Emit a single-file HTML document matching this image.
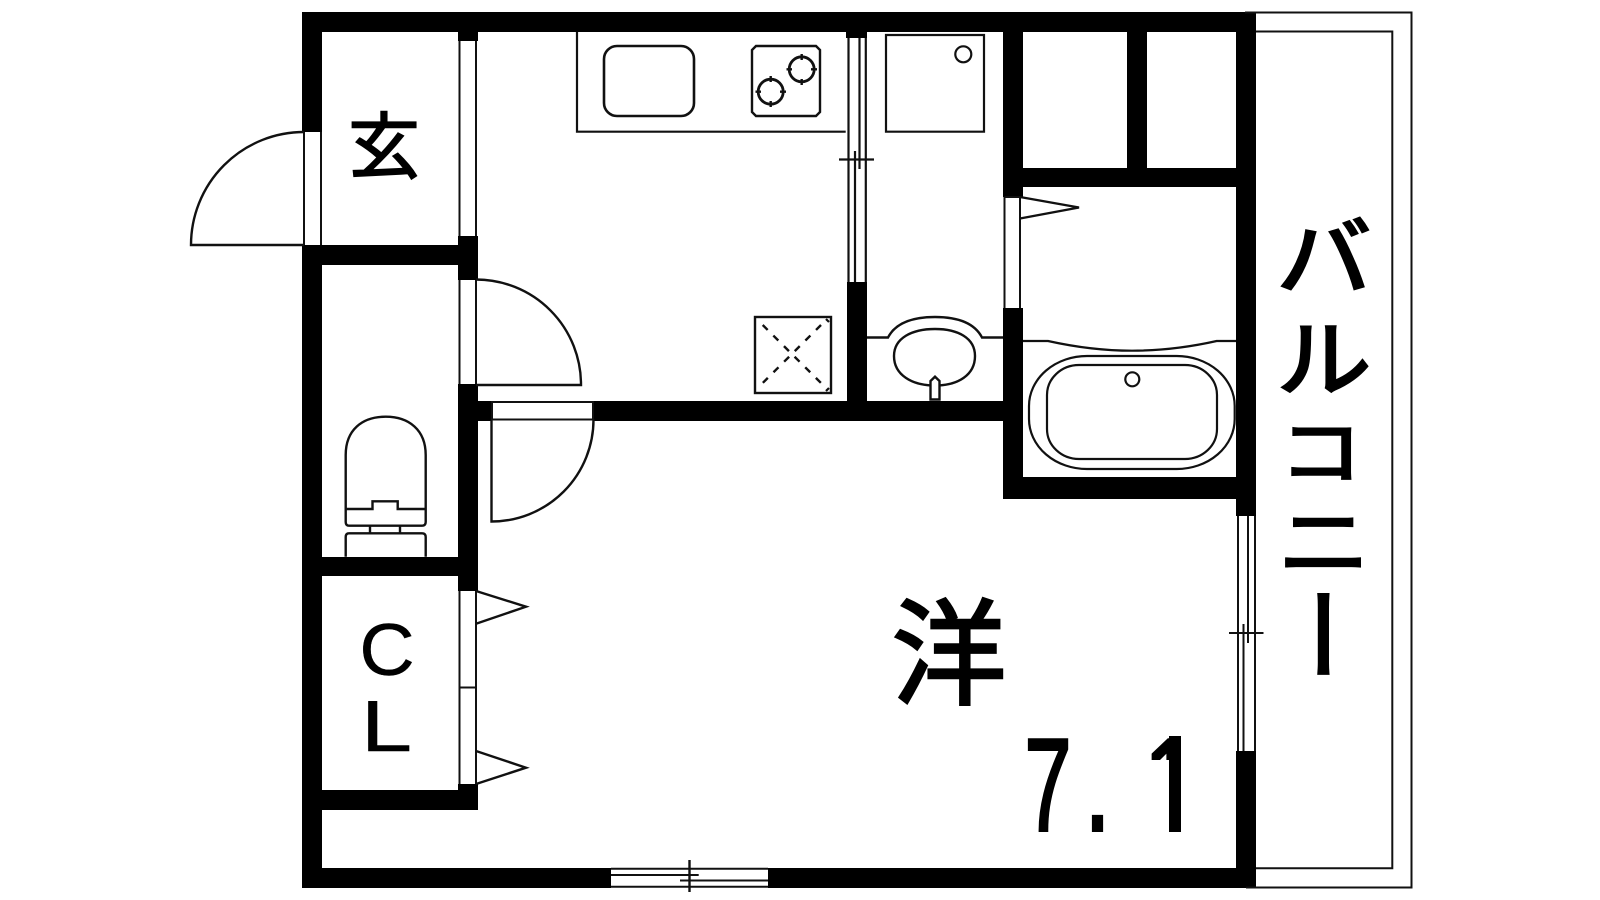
<!DOCTYPE html>
<html><head><meta charset="utf-8"><style>
html,body{margin:0;padding:0;background:#fff;width:1600px;height:900px;overflow:hidden}
svg{display:block}
.j{font-family:"Liberation Sans","Noto Sans CJK JP",sans-serif;fill:#000;stroke:#000}
.l{font-family:"Liberation Sans",sans-serif;fill:#000;stroke:#000}
</style></head><body>
<svg width="1600" height="900" viewBox="0 0 1600 900" xmlns="http://www.w3.org/2000/svg">
<rect width="1600" height="900" fill="#fff"/>
<!-- walls -->
<g fill="#000">
<rect x="302" y="12" width="954" height="20"/>
<rect x="302" y="12" width="20" height="120"/>
<rect x="302" y="245" width="20" height="643"/>
<rect x="302" y="868" width="309" height="20"/>
<rect x="768" y="868" width="488" height="20"/>
<rect x="458" y="32" width="20" height="9"/>
<rect x="458" y="236" width="20" height="44"/>
<rect x="458" y="384" width="20" height="207"/>
<rect x="458" y="784" width="20" height="26"/>
<rect x="302" y="245" width="176" height="20"/>
<rect x="302" y="557" width="176" height="19"/>
<rect x="302" y="790" width="176" height="20"/>
<rect x="478" y="401" width="14" height="20"/>
<rect x="593" y="401" width="430" height="20"/>
<rect x="846" y="32" width="21" height="6"/>
<rect x="847" y="282" width="20" height="125"/>
<rect x="1003" y="32" width="20" height="165"/>
<rect x="1003" y="308" width="20" height="191"/>
<rect x="1127" y="32" width="20" height="136"/>
<rect x="1003" y="168" width="253" height="19"/>
<rect x="1003" y="477" width="253" height="22"/>
<rect x="1236" y="12" width="20" height="504"/>
<rect x="1236" y="751" width="20" height="137"/>
</g>
<g fill="none" stroke="#111" stroke-width="2">
<!-- balcony -->
<path d="M1245,12.5H1411.5V887.5H1246"/>
<path d="M1256,31.5H1392.3V868.3H1256"/>
<!-- windows / door frames -->
<path d="M304,132V245M321,132V245"/>
<path d="M459.5,41V236M476,41V236"/>
<path d="M459.5,280V384M476,280V384"/>
<path d="M459.5,591V784M476,591V784M459.5,687.5H476"/>
<path d="M492,402H593V419.5H492Z"/>
<path d="M1004.5,197V308M1020,197V308M1004.5,197H1020"/>
<!-- doors -->
<path stroke-width="2.4" d="M304,245H191A113,113 0 0 1 304,132"/>
<path stroke-width="2.4" d="M476,279.5A105,105 0 0 1 581,385H476"/>
<path stroke-width="2.4" d="M491.5,420V521.5A102,102 0 0 0 593.5,419.5"/>
<path stroke-width="2.4" d="M476,591L526,606.7L476,623.7"/>
<path stroke-width="2.4" d="M476,751L526,767.7L476,784"/>
<path stroke-width="2.4" d="M1020,197L1079,207.5L1020,218.5"/>
<!-- sliding doors: kitchen -->
<path stroke-width="2.2" d="M848.5,38V282M865.8,38V282M855,151V282M859.5,38V169M839,159.5H874"/>
<!-- sliding: right -->
<path stroke-width="2" d="M1238,516V751M1255,516V751M1243.5,624V751M1248,516V643M1229,633H1263.5"/>
<!-- sliding: bottom -->
<path stroke-width="2" d="M611,868.8H768M611,886.8H768M611,875H698.7M680,880.5H768"/>
<path stroke-width="2.4" d="M689.5,860V892"/>
<!-- kitchen -->
<path stroke-width="2.2" d="M577,32V131.7H845.7"/>
<rect x="604" y="46" width="90" height="70" rx="13" stroke-width="2.6"/>
<path stroke-width="2.4" d="M756,46H816L820,50V112L816,116H756L752,112V50Z"/>
<circle cx="801.7" cy="69.3" r="12.5" stroke-width="2.8"/>
<circle cx="770.7" cy="91.7" r="12.5" stroke-width="2.8"/>
<path stroke-width="2.4" d="M801.7,54V60M801.7,79V85M786.5,69.3H792M811,69.3H817M770.7,76V82M770.7,101V107M755.5,91.7H761M780,91.7H786"/>
<!-- washer pan -->
<path stroke-width="2.2" d="M886,35H984V131.7H886Z"/>
<circle cx="963.3" cy="54.3" r="8" stroke-width="2.2"/>
<!-- floor drain / refrigerator -->
<rect x="755" y="317" width="76" height="76" stroke-width="2.4"/>
<path stroke-width="2.4" stroke-dasharray="7 8" d="M762.7,325L821,383M821,325L762.7,383"/>
<path stroke-width="2.2" d="M826,319L829,322M826,391L829,388"/>
<!-- vanity -->
<path stroke-width="2.4" d="M867,337.5H888C896,322 915,317 935,317C955,317 974,322 982,337.5H1003"/>
<path stroke-width="2.4" d="M894,356C894,338 912,329 935,329C958,329 975,338 975,356C975,375 958,385.5 935,385.5C912,385.5 894,375 894,356Z"/>
<path stroke-width="2.4" fill="#fff" d="M930.5,399.5V381L935,376.7L939.5,381V399.5Z"/>
<!-- bath -->
<path stroke-width="2.2" d="M1023,341H1048C1075,347 1105,350.7 1132,350.7C1160,350.7 1190,347 1216.7,341H1236"/>
<rect x="1029" y="356" width="205.7" height="113" rx="58" ry="50" stroke-width="2.2"/>
<rect x="1047" y="365" width="170" height="94" rx="32" ry="30" stroke-width="2.2"/>
<circle cx="1132.3" cy="379.3" r="7" stroke-width="2.2"/>
<!-- toilet -->
<path stroke-width="2.4" d="M345.7,509V455C345.7,430 362,416.7 385.7,416.7C409,416.7 425.7,430 425.7,455V509M345.7,509V522Q345.7,525.7 349,525.7H422Q425.7,525.7 425.7,522V509M345.7,509H372.5V501.3H397.7V509H425.7"/>
<path stroke-width="2.4" d="M370,525.7V533M400,525.7V533M345.7,556.7V537Q345.7,533.3 349,533.3H422Q425.7,533.3 425.7,537V556.7"/>
</g>
<!-- labels -->
<text class="j" x="384" y="172.5" font-size="72" text-anchor="middle" stroke-width="1.6">玄</text>
<text class="j" x="949" y="695" font-size="115" text-anchor="middle" stroke-width="2.6">洋</text>
<text class="j" transform="translate(1324,288.5) scale(.95,.86)" font-size="100" text-anchor="middle" stroke-width="3">バ</text>
<text class="j" transform="translate(1324,389.5) scale(.95,.84)" font-size="100" text-anchor="middle" stroke-width="3">ル</text>
<text class="j" transform="translate(1321,478) scale(.83,.72)" font-size="100" text-anchor="middle" stroke-width="3.4">コ</text>
<text class="j" transform="translate(1324,571) scale(.92,.8)" font-size="100" text-anchor="middle" stroke-width="3">ニ</text>
<text class="j" transform="translate(1285,634) rotate(90)" font-size="100" text-anchor="middle" stroke-width="2.4">ー</text>
<text class="l" transform="translate(387,675) scale(1.05,1)" font-size="73" text-anchor="middle" stroke-width=".4">C</text>
<text class="l" transform="translate(386.5,751) scale(1.28,1)" font-size="72" text-anchor="middle" stroke-width=".4">L</text>
<text class="l" transform="translate(1048,830.5) scale(.64,1)" font-size="132" text-anchor="middle" stroke-width="3">7</text>
<text class="l" transform="translate(1097.5,830.5) scale(.72,1)" font-size="132" text-anchor="middle" stroke-width="3">.</text>
<text class="l" transform="translate(1170,830.5) scale(.72,1)" font-size="132" text-anchor="middle" stroke-width="3">1</text>
<rect x="1135" y="760" width="34" height="76" fill="#fff"/>
<rect x="1181" y="730" width="24" height="106" fill="#fff"/>
<rect x="1169" y="736" width="12" height="96" fill="#000"/>
</svg>
</body></html>
